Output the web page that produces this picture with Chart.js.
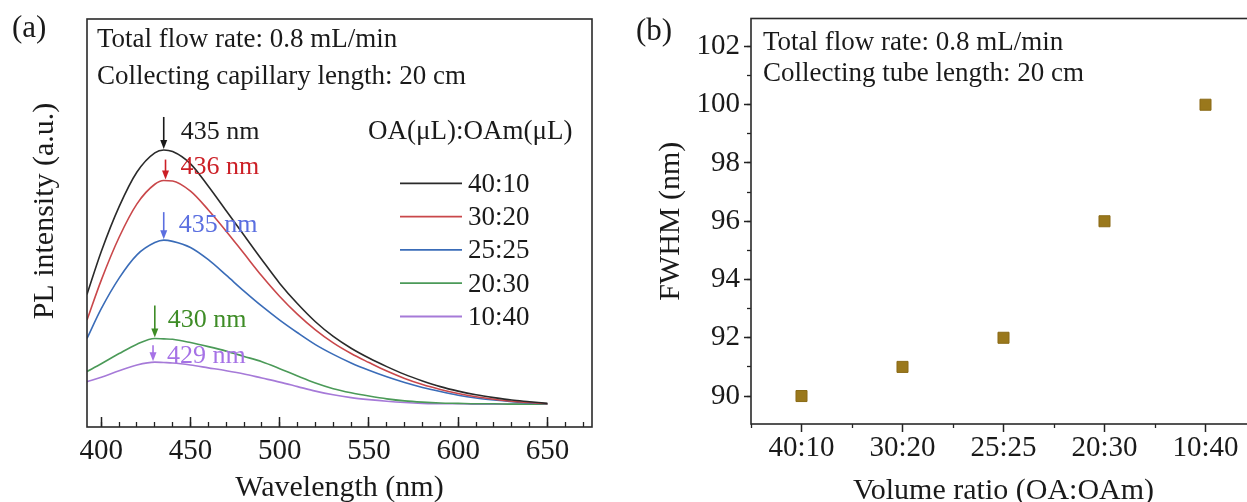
<!DOCTYPE html>
<html>
<head>
<meta charset="utf-8">
<script src="https://cdn.jsdelivr.net/npm/chart.js@4.4.1/dist/chart.umd.min.js"></script>
<style>
  html, body { margin:0; padding:0; background:#fff; }
  body { width:1247px; height:502px; overflow:hidden; position:relative; }
  canvas { position:absolute; top:0; }
  #chartA { left:0; }
  #chartB { left:620px; }
</style>
</head>
<body>
<canvas id="chartA" width="620" height="502"></canvas>
<canvas id="chartB" width="640" height="502"></canvas>
<script>
// ---------------- data ----------------
const wavelengths = [392,400,410,420,430,435,440,450,460,470,480,490,500,510,520,530,540,550,560,570,580,590,600,610,620,630,640,650];
const pl_40_10 = [0.325,0.430,0.540,0.625,0.672,0.679,0.675,0.645,0.590,0.530,0.470,0.410,0.352,0.302,0.258,0.222,0.193,0.169,0.148,0.129,0.113,0.099,0.088,0.079,0.072,0.066,0.062,0.058];
const pl_30_20 = [0.262,0.360,0.465,0.547,0.595,0.604,0.603,0.578,0.532,0.480,0.425,0.370,0.320,0.276,0.238,0.206,0.180,0.158,0.137,0.119,0.104,0.092,0.082,0.074,0.068,0.063,0.060,0.057];
const pl_25_25 = [0.217,0.290,0.365,0.422,0.452,0.458,0.455,0.440,0.410,0.372,0.333,0.296,0.262,0.231,0.202,0.178,0.157,0.139,0.123,0.109,0.097,0.087,0.078,0.071,0.066,0.062,0.059,0.057];
const pl_20_30 = [0.136,0.155,0.180,0.203,0.217,0.216,0.215,0.207,0.197,0.186,0.173,0.160,0.143,0.125,0.108,0.094,0.084,0.076,0.069,0.064,0.061,0.059,0.058,0.057,0.057,0.056,0.056,0.056];
const pl_10_40 = [0.111,0.122,0.138,0.152,0.159,0.158,0.157,0.152,0.145,0.138,0.130,0.120,0.110,0.099,0.088,0.079,0.072,0.067,0.063,0.060,0.058,0.057,0.057,0.056,0.056,0.056,0.056,0.056];
const seriesNames = ['40:10','30:20','25:25','20:30','10:40'];
const peakNm = [435,436,435,430,429];
const peakLabels = ['435 nm','436 nm','435 nm','430 nm','429 nm'];

const ratioLabels = ['40:10','30:20','25:25','20:30','10:40'];
const fwhm = [90,91,92,96,100];

// ---------------- styles ----------------
const FONT = "'Liberation Serif', 'Times New Roman', Times, serif";
const INK = '#1a1a1a';
const lineColors = ['#2a2a2a','#c9474a','#3a6cb8','#4b9a58','#a67ad8'];
const labelColors = ['#1a1a1a','#cc1f26','#5b6fe0','#3e8c26','#a672e6'];
const arrowLen = [32,20,27,32,16];
const labelDx = [17,15,15,13,14];
const labelDy = [-10,-6,-7,-10,2];

Chart.defaults.font.family = FONT;
Chart.defaults.color = INK;

const seriesA = [pl_40_10, pl_30_20, pl_25_25, pl_20_30, pl_10_40];

function drawArrow(ctx, x, tip, len, color) {
  ctx.strokeStyle = color; ctx.fillStyle = color; ctx.lineWidth = 1.6;
  ctx.beginPath(); ctx.moveTo(x, tip - len); ctx.lineTo(x, tip - 7); ctx.stroke();
  ctx.beginPath(); ctx.moveTo(x - 3.5, tip - 9); ctx.lineTo(x + 3.5, tip - 9); ctx.lineTo(x, tip); ctx.closePath(); ctx.fill();
}

const decorA = {
  id: 'decorA',
  afterDraw(chart) {
    const {ctx, chartArea: ca, scales} = chart;
    ctx.save();
    ctx.strokeStyle = '#2a2a2a'; ctx.lineWidth = 1.6;
    ctx.strokeRect(ca.left, ca.top, ca.right - ca.left, ca.bottom - ca.top);
    ctx.fillStyle = INK; ctx.textAlign = 'left'; ctx.textBaseline = 'alphabetic';
    ctx.font = '31px ' + FONT;
    ctx.fillText('(a)', 12, 37);
    // y axis title
    ctx.save();
    ctx.translate(45, 211);
    ctx.rotate(-Math.PI / 2);
    ctx.textAlign = 'center'; ctx.textBaseline = 'middle';
    ctx.font = '30px ' + FONT;
    ctx.fillText('PL intensity (a.u.)', 0, 0);
    ctx.restore();
    ctx.font = '27px ' + FONT;
    ctx.fillText('Total flow rate: 0.8 mL/min', ca.left + 10, ca.top + 28);
    ctx.fillText('Collecting capillary length: 20 cm', ca.left + 10, ca.top + 65);
    // legend
    ctx.fillText('OA(\u03bcL):OAm(\u03bcL)', ca.left + 281, ca.top + 120);
    chart.data.datasets.forEach((ds, i) => {
      const y = ca.top + 164.3 + 33.3 * i;
      ctx.strokeStyle = ds.borderColor; ctx.lineWidth = 1.8;
      ctx.beginPath(); ctx.moveTo(ca.left + 313, y); ctx.lineTo(ca.left + 375, y); ctx.stroke();
      ctx.fillStyle = INK;
      ctx.fillText(ds.label, ca.left + 381, y + 8.5);
    });
    // peak arrows
    ctx.font = '26px ' + FONT;
    chart.data.datasets.forEach((ds, i) => {
      const peakVal = Math.max(...ds.data.map(p => p.y));
      const px = scales.x.getPixelForValue(peakNm[i]);
      const tip = scales.y.getPixelForValue(peakVal) - 1;
      drawArrow(ctx, px, tip, arrowLen[i], labelColors[i]);
      ctx.fillStyle = labelColors[i];
      ctx.fillText(peakLabels[i], px + labelDx[i], tip + labelDy[i]);
    });
    ctx.restore();
  }
};

const decorB = {
  id: 'decorB',
  afterDraw(chart) {
    const {ctx, chartArea: ca} = chart;
    ctx.save();
    ctx.strokeStyle = '#2a2a2a'; ctx.lineWidth = 1.6;
    ctx.strokeRect(ca.left, ca.top, ca.right - ca.left, ca.bottom - ca.top);
    ctx.fillStyle = INK; ctx.textAlign = 'left'; ctx.textBaseline = 'alphabetic';
    ctx.font = '31px ' + FONT;
    ctx.fillText('(b)', 16, 40);
    ctx.font = '27px ' + FONT;
    ctx.fillText('Total flow rate: 0.8 mL/min', ca.left + 12, ca.top + 31);
    ctx.fillText('Collecting tube length: 20 cm', ca.left + 12, ca.top + 62);
    ctx.restore();
  }
};

new Chart(document.getElementById('chartA'), {
  type: 'line',
  data: {
    datasets: seriesA.map((vals, i) => ({
      label: seriesNames[i],
      data: wavelengths.map((w, j) => ({x: w, y: vals[j]})),
      borderColor: lineColors[i],
      borderWidth: 1.6,
      pointRadius: 0,
      fill: false,
      cubicInterpolationMode: 'monotone'
    }))
  },
  options: {
    responsive: false, animation: false, events: [],
    layout: {padding: {top: 19, right: 28, left: 0, bottom: 0}, autoPadding: false},
    plugins: {legend: {display: false}, tooltip: {enabled: false}},
    scales: {
      x: {
        type: 'linear', position: 'bottom', min: 392, max: 675, weight: 1,
        afterFit: s => { s.height = 75; },
        border: {display: false},
        grid: {display: true, drawOnChartArea: false, drawTicks: true, tickLength: -10, tickColor: '#222', tickWidth: 1.5},
        ticks: {stepSize: 50, includeBounds: false, padding: 20, maxRotation: 0, autoSkip: false, color: INK, font: {size: 29, lineHeight: 1}},
        title: {display: true, text: 'Wavelength (nm)', color: INK, font: {size: 30, lineHeight: 1}, padding: {top: 0, bottom: -1}}
      },
      xMinor: {
        type: 'linear', axis: 'x', position: 'bottom', min: 392, max: 675, weight: 0,
        afterFit: s => { s.height = 0; },
        border: {display: false},
        grid: {display: true, drawOnChartArea: false, drawTicks: true, tickLength: -5, tickColor: '#222', tickWidth: 1.3},
        ticks: {stepSize: 10, includeBounds: false, display: false}
      },
      y: {
        type: 'linear', position: 'left', min: 0, max: 1,
        afterFit: s => { s.width = 87; },
        border: {display: false},
        grid: {display: false},
        ticks: {display: false},
        title: {display: false}
      }
    }
  },
  plugins: [decorA]
});

new Chart(document.getElementById('chartB'), {
  type: 'line',
  data: {
    labels: ratioLabels,
    datasets: [{
      label: 'FWHM',
      data: fwhm,
      showLine: false,
      pointStyle: 'rect',
      pointRadius: 7.8,
      pointHoverRadius: 7.8,
      backgroundColor: '#9a781c',
      borderColor: '#8a6a16',
      borderWidth: 1
    }]
  },
  options: {
    responsive: false, animation: false, events: [],
    layout: {padding: {top: 15, right: 4, left: 0, bottom: 0}, autoPadding: false},
    plugins: {legend: {display: false}, tooltip: {enabled: false}},
    scales: {
      x: {
        type: 'category', position: 'bottom', offset: true, weight: 1,
        afterFit: s => { s.height = 78; },
        border: {display: false},
        grid: {display: true, offset: false, drawOnChartArea: false, drawTicks: true, tickLength: 8, tickColor: '#222', tickWidth: 1.5},
        ticks: {padding: 2, maxRotation: 0, autoSkip: false, color: INK, font: {size: 29, lineHeight: 1}},
        title: {display: true, text: 'Volume ratio (OA:OAm)', color: INK, font: {size: 30, lineHeight: 1}, padding: {top: 0, bottom: -4}}
      },
      xMinor: {
        type: 'category', axis: 'x', position: 'bottom', offset: true, weight: 0,
        labels: ratioLabels,
        afterFit: s => { s.height = 0; },
        border: {display: false},
        grid: {display: true, offset: true, drawOnChartArea: false, drawTicks: true, tickLength: 4, tickColor: '#222', tickWidth: 1.3},
        ticks: {display: false}
      },
      y: {
        type: 'linear', position: 'left', min: 89.04, max: 102.96, weight: 1,
        afterFit: s => { s.width = 131; },
        border: {display: false},
        grid: {display: true, drawOnChartArea: false, drawTicks: true, tickLength: 7, tickColor: '#222', tickWidth: 1.5},
        ticks: {stepSize: 2, includeBounds: false, padding: 4, color: INK, font: {size: 29, lineHeight: 1}},
        title: {display: true, text: 'FWHM (nm)', color: INK, font: {size: 30, lineHeight: 1}, padding: {top: 36, bottom: 0}}
      },
      yMinor: {
        type: 'linear', axis: 'y', position: 'left', min: 89.04, max: 102.96, weight: 0,
        afterFit: s => { s.width = 0; },
        border: {display: false},
        grid: {display: true, drawOnChartArea: false, drawTicks: true, tickLength: 4, tickColor: '#222', tickWidth: 1.3},
        ticks: {stepSize: 1, includeBounds: false, display: false}
      }
    }
  },
  plugins: [decorB]
});
</script>
</body>
</html>
